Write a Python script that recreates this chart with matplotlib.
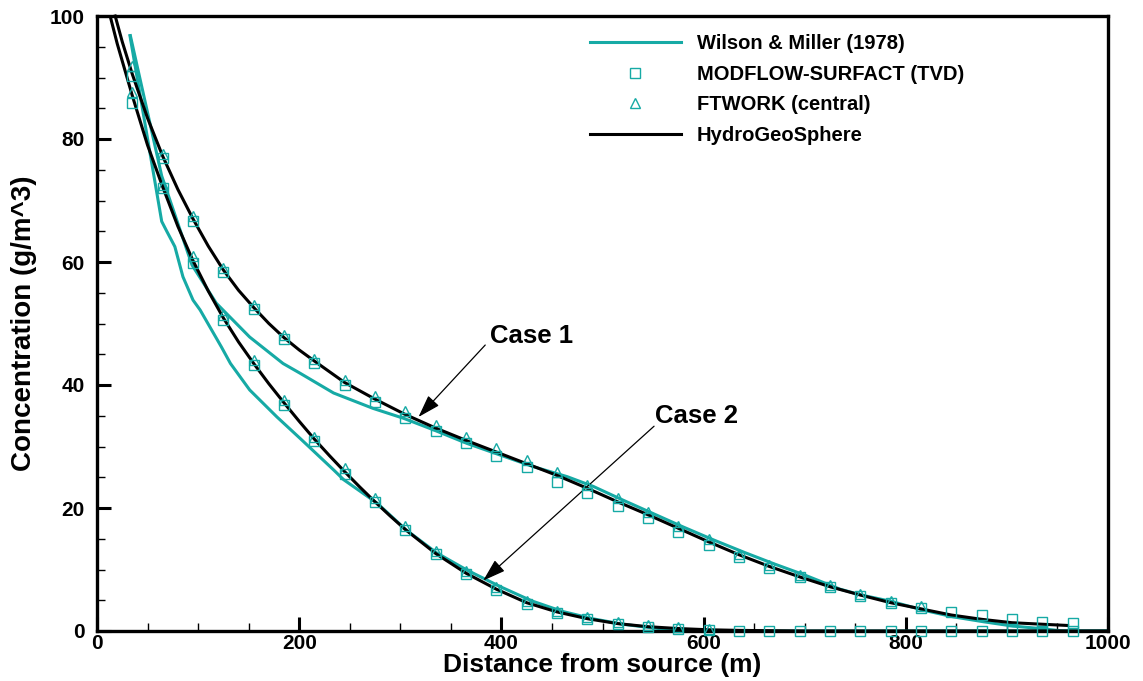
import matplotlib
matplotlib.use("Agg")
import matplotlib.pyplot as plt
from matplotlib.lines import Line2D
from matplotlib.ticker import MultipleLocator

plt.rcParams['font.family'] = ['Liberation Sans', 'DejaVu Sans']
plt.rcParams['font.weight'] = 'bold'

TEAL = '#16aaa5'

# Numerical model sample locations (m)
x_mark = [35, 65, 95, 125, 155, 185, 215, 245, 275, 305, 335, 365, 395, 425,
          455, 485, 515, 545, 575, 605, 635, 665, 695, 725, 755, 785, 815, 845,
          875, 905, 935, 965]

# MODFLOW-SURFACT (TVD)
modflow_case1 = [90.2, 76.9, 66.6, 58.4, 52.3, 47.4, 43.5, 40.0, 37.3, 34.7, 32.6,
                 30.5, 28.5, 26.6, 24.3, 22.4, 20.3, 18.3, 16.1, 14.0, 12.1, 10.3,
                 8.7, 7.1, 5.7, 4.5, 3.7, 3.1, 2.6, 1.95, 1.5, 1.3]
modflow_case2 = [85.8, 72.0, 59.8, 50.6, 43.3, 36.7, 30.9, 25.6, 20.9, 16.5, 12.5,
                 9.3, 6.7, 4.4, 2.9, 1.9, 1.1, 0.7, 0.4, 0.2, 0.0, 0.0, 0.0, 0.0,
                 0.0, 0.0, 0.0, 0.0, 0.0, 0.0, 0.0, 0.0]

# FTWORK (central)
ftwork_case1 = [91.8, 77.5, 67.4, 59.0, 53.0, 48.1, 44.3, 40.8, 38.2, 35.7, 33.5,
                31.6, 29.7, 27.8, 25.9, 23.7, 21.6, 19.4, 17.1, 14.9, 12.6, 10.7,
                9.1, 7.5, 6.0, 4.9, 4.0]
ftwork_case2 = [87.6, 72.5, 60.9, 51.4, 44.1, 37.6, 31.6, 26.5, 21.6, 17.0, 13.0,
                9.8, 7.1, 4.9, 3.2, 2.2, 1.5, 1.0, 0.6, 0.4]

# HydroGeoSphere
hgs1_x = [18, 25, 35, 50, 65, 80, 95, 110, 125, 140, 155, 170, 185, 200, 215, 245,
          275, 305, 335, 365, 395, 425, 455, 485, 515, 545, 575, 605, 635, 665,
          695, 725, 755, 785, 815, 845, 875, 905, 935, 960]
hgs1_y = [100, 95.8, 90.5, 83.4, 77.2, 71.8, 67.0, 62.6, 58.7, 55.4, 52.6, 50.0,
          47.7, 45.7, 43.9, 40.4, 37.7, 35.2, 33.0, 31.0, 29.1, 27.2, 25.3, 23.2,
          21.0, 18.9, 16.7, 14.5, 12.4, 10.5, 8.8, 7.2, 5.85, 4.6, 3.6, 2.6, 1.9,
          1.35, 1.1, 0.9]
hgs2_x = [13, 20, 35, 50, 65, 80, 95, 110, 125, 140, 155, 170, 185, 200, 215, 230,
          245, 260, 275, 290, 305, 335, 365, 395, 425, 455, 485, 515, 545, 575,
          605, 635, 665, 700, 1000]
hgs2_y = [100, 95.5, 87.0, 79.0, 72.2, 65.8, 60.2, 55.3, 50.9, 47.0, 43.5, 40.2,
          37.1, 34.1, 31.2, 28.5, 25.9, 23.4, 21.0, 18.7, 16.5, 12.6, 9.4, 6.8,
          4.6, 3.1, 2.0, 1.2, 0.7, 0.4, 0.2, 0.1, 0.05, 0.0, 0.0]

# Wilson & Miller (1978) analytical solution
wm1_x = [33, 64, 94, 118, 151, 184, 201, 234, 273, 303, 333, 366, 399, 432, 465,
         491, 520, 550, 580, 610, 640, 670, 700, 735, 756, 786, 817, 847, 877,
         906, 933, 955, 1000]
wm1_y = [96.8, 74.0, 59.5, 53.3, 47.8, 43.5, 41.9, 38.7, 36.2, 34.6, 32.7, 30.5,
         28.6, 26.7, 25.1, 23.5, 21.3, 19.1, 16.9, 14.8, 12.8, 10.9, 9.1, 6.8,
         5.85, 4.8, 3.4, 2.3, 1.5, 0.8, 0.4, 0.0, 0.0]
wm2_x = [32.6, 64, 69, 77, 85, 95, 102, 123, 132, 151, 178, 201, 234, 244, 277,
         306, 336, 366, 399, 430, 460, 490, 520, 550, 580, 1000]
wm2_y = [96.8, 66.6, 65.0, 62.5, 57.6, 53.8, 52.2, 46.2, 43.5, 39.2, 34.8, 31.3,
         26.2, 24.6, 20.8, 16.4, 12.7, 9.9, 7.2, 4.9, 3.2, 2.0, 1.1, 0.5, 0.0, 0.0]

legend_labels = ['Wilson & Miller (1978)', 'MODFLOW-SURFACT (TVD)',
                 'FTWORK (central)', 'HydroGeoSphere']

fig = plt.figure(figsize=(11.43, 6.81), dpi=100)
ax = fig.add_axes([97 / 1143, 1 - 631 / 681, (1108 - 97) / 1143, (631 - 16) / 681])

lw = 2.2
ax.plot(wm1_x, wm1_y, color=TEAL, lw=lw, zorder=2, clip_on=False)
ax.plot(wm2_x, wm2_y, color=TEAL, lw=lw, zorder=2, clip_on=False)
ax.plot(hgs1_x, hgs1_y, color='black', lw=lw, zorder=3, clip_on=False)
ax.plot(hgs2_x, hgs2_y, color='black', lw=lw, zorder=3)

mk = dict(linestyle='none', markerfacecolor='none', markeredgecolor=TEAL,
          markeredgewidth=1.0)
ax.plot(x_mark, modflow_case1, marker='s', markersize=6.5, zorder=4, clip_on=False, **mk)
ax.plot(x_mark, modflow_case2, marker='s', markersize=6.5, zorder=4, clip_on=False, **mk)
ax.plot(x_mark[:len(ftwork_case1)], ftwork_case1, marker='^', markersize=7.5,
        zorder=4, clip_on=False, **mk)
ax.plot(x_mark[:len(ftwork_case2)], ftwork_case2, marker='^', markersize=7.5,
        zorder=4, clip_on=False, **mk)

ax.set_xlim(0, 1000)
ax.set_ylim(0, 100)
ax.xaxis.set_major_locator(MultipleLocator(200))
ax.xaxis.set_minor_locator(MultipleLocator(50))
ax.yaxis.set_major_locator(MultipleLocator(20))
ax.yaxis.set_minor_locator(MultipleLocator(5))
ax.tick_params(which='major', direction='in', length=10, width=2.2,
               labelsize=15, top=False, right=False)
ax.tick_params(which='minor', direction='in', length=6, width=1.0,
               top=False, right=False)
ax.tick_params(axis='y', which='major', pad=9)
ax.tick_params(axis='x', which='major', pad=2)
for lab in ax.get_xticklabels() + ax.get_yticklabels():
    lab.set_fontweight('bold')
for sp in ax.spines.values():
    sp.set_linewidth(2.4)

ax.set_xlabel('Distance from source (m)', fontsize=19, fontweight='bold', labelpad=0)
ax.set_ylabel('Concentration (g/m^3)', fontsize=20, fontweight='bold', labelpad=9)

handles = [
    Line2D([], [], color=TEAL, lw=2.2),
    Line2D([], [], marker='s', markersize=6.5, **mk),
    Line2D([], [], marker='^', markersize=7.5, **mk),
    Line2D([], [], color='black', lw=2.2),
]
leg = ax.legend(handles, legend_labels, loc='upper left',
                bbox_to_anchor=(590 / 1143, 1 - 34 / 681),
                bbox_transform=fig.transFigure, frameon=False,
                prop={'size': 14.5, 'weight': 'bold'},
                handlelength=4.5, handletextpad=0.8, labelspacing=0.58,
                borderpad=0, borderaxespad=0)

arrow_kw = dict(arrowstyle='-|>,head_length=1.4,head_width=0.45',
                color='black', lw=0.9, shrinkA=0, shrinkB=0)
ax.annotate('', xy=(318, 34.8), xytext=(384, 46.5), arrowprops=arrow_kw)
ax.annotate('', xy=(382, 8.2), xytext=(551, 33.3), arrowprops=arrow_kw)
ax.text(430, 48.0, 'Case 1', fontsize=18.5, fontweight='bold', ha='center', va='center')
ax.text(592.5, 34.9, 'Case 2', fontsize=18.5, fontweight='bold', ha='center', va='center')

fig.savefig('out.png', dpi=100)
